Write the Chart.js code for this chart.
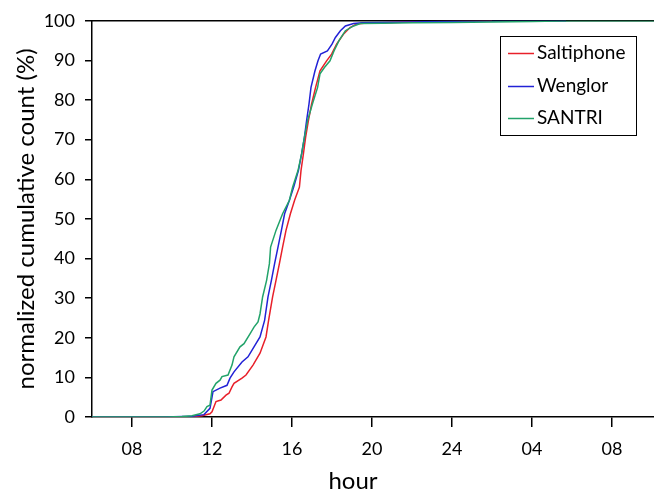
<!DOCTYPE html>
<html>
<head>
<meta charset="utf-8">
<script src="https://cdn.jsdelivr.net/npm/chart.js@4/dist/chart.umd.min.js"></script>
<style>
  html, body { margin: 0; padding: 0; background: #fff; }
  #wrap { width: 654px; height: 492px; }
</style>
</head>
<body>
<div id="wrap"><canvas id="c" width="654" height="492"></canvas></div>
<script>
// ---- data (hour of day, continuing past midnight as 24+) ----
const seriesNames = ['Saltiphone', 'Wenglor', 'SANTRI'];

const saltiphoneHours = [6, 10.0, 11.0, 11.5, 11.9, 12.0, 12.2, 12.45, 12.7, 12.85, 13.0, 13.1, 13.5, 13.7, 14.05, 14.4, 14.7, 14.83, 15.03, 15.2, 15.37, 15.53, 15.7, 15.92, 16.13, 16.37, 16.45, 16.57, 16.68, 16.82, 16.98, 17.18, 17.4, 17.73, 17.98, 18.23, 18.57, 18.9, 19.23, 19.6, 20.5, 22, 24, 26];
const saltiphoneValues = [0, 0, 0.1, 0.3, 0.8, 1.3, 3.9, 4.3, 5.5, 6.0, 7.6, 8.5, 9.8, 10.6, 13.1, 16.1, 20.2, 24.4, 30.3, 34.5, 38.7, 42.9, 47.1, 51.3, 54.7, 58.0, 62.2, 66.4, 70.6, 74.8, 79.0, 83.2, 87.4, 89.9, 91.6, 94.1, 96.6, 98.3, 99.2, 99.4, 99.5, 99.7, 99.9, 100];

const wenglorHours = [6, 9.6, 11.0, 11.6, 11.9, 12.05, 12.4, 12.75, 12.9, 13.1, 13.5, 13.8, 14.1, 14.4, 14.63, 14.8, 14.97, 15.13, 15.3, 15.47, 15.63, 15.87, 16.08, 16.32, 16.48, 16.62, 16.73, 16.85, 16.95, 17.15, 17.3, 17.43, 17.77, 18.0, 18.17, 18.42, 18.67, 19.08, 19.5, 20.5, 22, 24, 27, 29.7];
const wenglorValues = [0, 0, 0.2, 0.6, 2.2, 6.4, 7.3, 8.0, 9.8, 11.4, 13.9, 15.2, 17.7, 20.2, 24.4, 30.3, 34.5, 38.7, 42.9, 47.1, 51.3, 54.7, 58.0, 62.2, 66.4, 70.6, 74.8, 79.0, 83.2, 87.4, 89.9, 91.6, 92.4, 94.1, 95.8, 97.5, 98.7, 99.3, 99.5, 99.6, 99.7, 99.9, 100, 100];

const santriHours = [6, 9.8, 10.5, 11.0, 11.4, 11.6, 11.75, 11.9, 12.0, 12.2, 12.4, 12.5, 12.8, 13.0, 13.1, 13.4, 13.6, 13.9, 14.1, 14.3, 14.4, 14.53, 14.73, 14.87, 14.93, 15.2, 15.53, 15.87, 16.03, 16.3, 16.48, 16.62, 16.78, 17.02, 17.28, 17.4, 17.62, 17.9, 18.1, 18.35, 18.67, 19.08, 19.42, 20.5, 22, 24, 26, 28, 30, 34.1];
const santriValues = [0, 0, 0.1, 0.3, 0.8, 1.5, 2.6, 3.0, 6.8, 8.5, 9.3, 10.2, 10.6, 13.1, 15.2, 17.7, 18.5, 21.0, 22.7, 24.0, 26.0, 30.3, 34.5, 38.7, 42.9, 47.1, 51.3, 54.7, 58.0, 62.2, 66.4, 70.6, 74.8, 79.0, 83.2, 86.6, 88.2, 89.9, 92.4, 95.0, 97.5, 98.7, 99.3, 99.4, 99.5, 99.6, 99.7, 99.8, 100, 100];

const xTickValues = [8, 12, 16, 20, 24, 28, 32];
const xTickLabels = ['08', '12', '16', '20', '24', '04', '08'];
const yTickValues = [0, 10, 20, 30, 40, 50, 60, 70, 80, 90, 100];

const xTitle = 'hour';
const yTitle = 'normalized cumulative count (%)';

// ---- styling ----
const FONT = "Lato, 'Open Sans', sans-serif";
const colors = ['#e8202a', '#2222d6', '#22a36a'];

function pts(h, v) { return h.map((x, i) => ({ x: x, y: v[i] })); }

const legendBox = {
  id: 'legendBox',
  afterDraw(chart) {
    const ctx = chart.ctx;
    ctx.save();
    ctx.strokeStyle = '#000';
    ctx.lineWidth = 1;
    ctx.strokeRect(500.5, 36.5, 136, 99);
    const ys = [53, 86, 118];
    ctx.font = "19px " + FONT;
    ctx.textBaseline = 'middle';
    ctx.textAlign = 'left';
    chart.data.datasets.forEach((ds, i) => {
      ctx.strokeStyle = ds.borderColor;
      ctx.lineWidth = 1.5;
      ctx.beginPath();
      ctx.moveTo(508, ys[i] + 0.5);
      ctx.lineTo(534, ys[i] + 0.5);
      ctx.stroke();
      ctx.fillStyle = '#000';
      ctx.fillText(ds.label, 537, ys[i]);
    });
    ctx.restore();
  }
};

const frameAndTitle = {
  id: 'frameAndTitle',
  beforeDatasetsDraw(chart) {
    const ctx = chart.ctx, a = chart.chartArea;
    ctx.save();
    ctx.strokeStyle = '#000';
    ctx.lineWidth = 1.5;
    ctx.beginPath();
    ctx.moveTo(a.left, a.top);
    ctx.lineTo(a.right, a.top);
    ctx.stroke();
    ctx.restore();
  },
  afterDraw(chart) {
    const ctx = chart.ctx;
    ctx.save();
    ctx.fillStyle = '#000';
    ctx.font = "24px " + FONT;
    ctx.textAlign = 'center';
    ctx.textBaseline = 'middle';
    ctx.fillText(xTitle, 353, 481);
    ctx.restore();
  }
};

new Chart(document.getElementById('c'), {
  type: 'line',
  data: {
    datasets: [
      { label: seriesNames[0], data: pts(saltiphoneHours, saltiphoneValues), borderColor: colors[0], order: 3 },
      { label: seriesNames[1], data: pts(wenglorHours, wenglorValues), borderColor: colors[1], order: 2 },
      { label: seriesNames[2], data: pts(santriHours, santriValues), borderColor: colors[2], order: 1 }
    ]
  },
  options: {
    responsive: false,
    animation: false,
    devicePixelRatio: 1,
    layout: { padding: { top: 20, right: 0, left: 0, bottom: 0 } },
    elements: {
      line: { borderWidth: 1.5, tension: 0, fill: false },
      point: { radius: 0 }
    },
    plugins: {
      legend: { display: false },
      tooltip: { enabled: false }
    },
    scales: {
      x: {
        type: 'linear',
        min: 6,
        max: 34.1,
        afterBuildTicks: s => { s.ticks = xTickValues.map(v => ({ value: v })); },
        afterFit: s => { s.height = 75; },
        ticks: {
          color: '#000',
          font: { family: FONT, size: 18 },
          padding: 11,
          maxRotation: 0,
          autoSkip: false,
          callback: (v) => { const i = xTickValues.indexOf(v); return i >= 0 ? xTickLabels[i] : ''; }
        },
        grid: { drawOnChartArea: false, drawTicks: true, tickLength: 10, color: '#000', lineWidth: 1.5 },
        border: { display: true, color: '#000', width: 1.5 }
      },
      y: {
        min: 0,
        max: 100,
        afterBuildTicks: s => { s.ticks = yTickValues.map(v => ({ value: v })); },
        afterFit: s => { s.width = 92; },
        ticks: {
          color: '#000',
          font: { family: FONT, size: 18 },
          padding: 10
        },
        grid: { drawOnChartArea: false, drawTicks: true, tickLength: 7, color: '#000', lineWidth: 1.5 },
        border: { display: true, color: '#000', width: 1.5 },
        title: {
          display: true,
          text: yTitle,
          color: '#000',
          font: { family: FONT, size: 24 },
          padding: { top: 12, bottom: 0 }
        }
      }
    }
  },
  plugins: [legendBox, frameAndTitle]
});
</script>
</body>
</html>
